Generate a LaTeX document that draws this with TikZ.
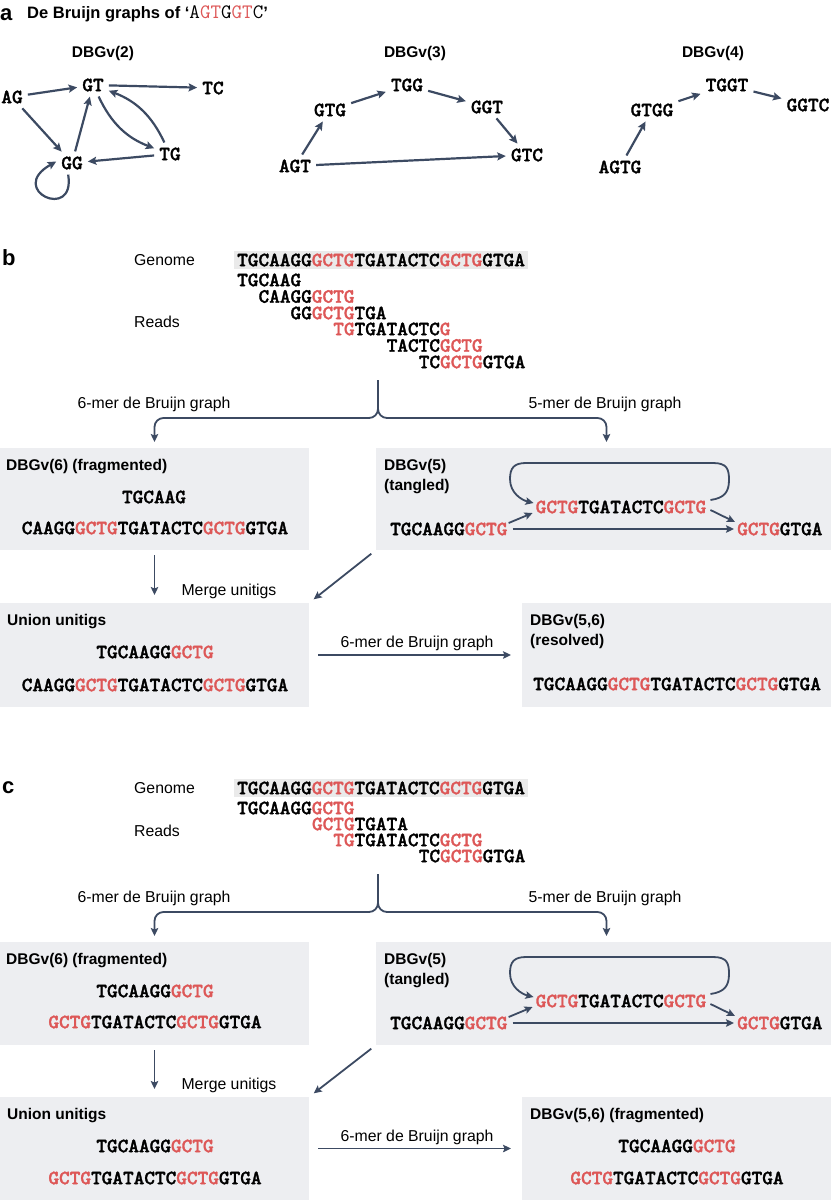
\documentclass[tikz,border=0pt]{standalone}
\usepackage{fontspec}
\setmainfont{Liberation Sans}
\newfontfamily\seqf{lmmonolt10-bold.otf}[FakeBold=1.6]
\usetikzlibrary{arrows.meta}
\definecolor{seqred}{HTML}{DD5757}
\definecolor{arr}{HTML}{3C4A62}
\definecolor{boxbg}{HTML}{EDEEF1}
\definecolor{genbg}{HTML}{EAEAEA}
\newcommand{\R}[1]{\textcolor{seqred}{#1}}
\begin{document}
\begin{tikzpicture}[x=1pt,y=1pt,
  seq/.style={font=\seqf\fontsize{20.3}{22}\selectfont, inner sep=0pt, text=black},
  gnode/.style={seq, inner sep=4pt},
  lab/.style={font=\fontsize{15.8}{18}\selectfont, inner sep=0pt, text height=11.3pt, text depth=0pt},
  ttl/.style={font=\bfseries\fontsize{15.5}{18}\selectfont, inner sep=0pt, text height=11.1pt, text depth=0pt},
  panel/.style={font=\bfseries\fontsize{22}{24}\selectfont, inner sep=0pt, text height=15pt, text depth=0pt, anchor=west},
  conn/.style={draw=arr, line width=1.8pt, -{Stealth[length=8pt,width=7.5pt,inset=1.5pt]}},
  aconn/.style={draw=arr, line width=2.2pt, -{Stealth[length=8.5pt,width=8pt,inset=1.5pt]}, shorten >=1pt, shorten <=1pt},
  box/.style={fill=boxbg, inner sep=0pt, outer sep=0pt, anchor=north west},
]
\useasboundingbox (0,0) rectangle (831,-1200);

% ---------------- panel a ----------------
\node[panel] (pa) at (0,-13) {a};
\node[ttl, anchor=west, font=\bfseries\fontsize{16.5}{18}\selectfont] (ta) at (27,-13)
  {De Bruijn graphs of ‘{\ttfamily\mdseries\fontsize{20.5}{22}\selectfont A\R{GT}G\R{GT}C}’};

\node[ttl] (a2t) at (103,-52) {DBGv(2)};
\node[gnode] (AG) at (12,-97) {AG};
\node[gnode] (GT) at (93,-85) {GT};
\node[gnode] (TC) at (213,-88) {TC};
\node[gnode] (GG) at (72,-163) {GG};
\node[gnode] (TG) at (170,-154) {TG};
\draw[aconn] (AG) -- (GT);
\draw[aconn] (GT) -- (TC);
\draw[aconn] (AG) -- (GG);
\draw[aconn] (GG) -- (GT);
\draw[aconn] (GT) to[bend right=22] (TG);
\draw[aconn] (TG) to[bend right=22] (GT);
\draw[aconn] (TG) -- (GG);
\draw[aconn] ([xshift=-4pt]GG.south) .. controls (76,-222) and (6,-190) .. ([yshift=2pt]GG.west);

\node[ttl] (a3t) at (415,-52) {DBGv(3)};
\node[gnode] (GTG) at (330,-110) {GTG};
\node[gnode] (TGG) at (407,-85) {TGG};
\node[gnode] (GGT) at (487,-107) {GGT};
\node[gnode] (GTC) at (527,-155) {GTC};
\node[gnode] (AGT) at (295,-166) {AGT};
\draw[aconn] (AGT) -- (GTG);
\draw[aconn] (GTG) -- (TGG);
\draw[aconn] (TGG) -- (GGT);
\draw[aconn] (GGT) -- (GTC);
\draw[aconn] (AGT) -- (GTC);

\node[ttl] (a4t) at (713,-52) {DBGv(4)};
\node[gnode] (GTGG) at (652,-110) {GTGG};
\node[gnode] (TGGT) at (727,-85) {TGGT};
\node[gnode] (GGTC) at (808,-105) {GGTC};
\node[gnode] (AGTG) at (620,-167) {AGTG};
\draw[aconn] (AGTG) -- (GTGG);
\draw[aconn] (GTGG) -- (TGGT);
\draw[aconn] (TGGT) -- (GGTC);

% ---------------- panel b ----------------
\node[panel] (pb) at (2,-258) {b};
\node[lab, anchor=west] (bgl) at (134,-260) {Genome};
\node[seq, fill=genbg, inner xsep=3pt, inner ysep=3pt, anchor=west] (bgs) at (234,-260)
  {TGCAAGG\R{GCTG}TGATACTC\R{GCTG}GTGA};
\node[lab, anchor=west] (brl) at (134,-322) {Reads};
\node[seq, anchor=west] (br1) at (237,-280) {TGCAAG};
\node[seq, anchor=west] (br2) at (258.4,-296.5) {CAAGG\R{GCTG}};
\node[seq, anchor=west] (br3) at (290.4,-313) {GG\R{GCTG}TGA};
\node[seq, anchor=west] (br4) at (333.1,-329) {\R{TG}TGATACTC\R{G}};
\node[seq, anchor=west] (br5) at (386.5,-345.5) {TACTC\R{GCTG}};
\node[seq, anchor=west] (br6) at (418.6,-362) {TC\R{GCTG}GTGA};

\node[box, minimum width=309pt, minimum height=102pt] (b6) at (0,-448) {};
\node[box, minimum width=455pt, minimum height=102pt] (b5) at (376,-448) {};
\node[box, minimum width=309pt, minimum height=104pt] (bu) at (0,-603) {};
\node[box, minimum width=309pt, minimum height=104pt] (bres) at (522,-603) {};

\coordinate (bsplit) at (378,-380);
\draw[conn, rounded corners=9pt, shorten >=6pt] (bsplit) -- (378,-418) -| (b6.north);
\draw[conn, rounded corners=9pt, shorten >=6pt] (bsplit) -- (378,-418) -| ([xshift=3pt]b5.north);
\node[lab] (bl6) at (154,-403) {6-mer de Bruijn graph};
\node[lab] (bl5) at (605,-403) {5-mer de Bruijn graph};

\node[ttl, anchor=west] (b6t) at (6,-465) {DBGv(6) (fragmented)};
\node[seq] (b6a) at (154,-497) {TGCAAG};
\node[seq] (b6b) at (155,-528) {CAAGG\R{GCTG}TGATACTC\R{GCTG}GTGA};

\node[ttl, anchor=west] (b5t) at (384,-465) {DBGv(5)};
\node[ttl, anchor=west] (b5u) at (384,-485) {(tangled)};
\node[seq] (bm) at (621,-507) {\R{GCTG}TGATACTC\R{GCTG}};
\node[seq, anchor=west] (bl) at (390,-529) {TGCAAGG\R{GCTG}};
\node[seq, anchor=west] (bri) at (737,-529) {\R{GCTG}GTGA};
\draw[conn] ([shift={(1pt,6pt)}]bl.east) -- ([shift={(-3pt,-6pt)}]bm.west);
\draw[conn] ([shift={(4pt,-3pt)}]bm.east) -- ([shift={(-2pt,7pt)}]bri.west);
\draw[conn] ([xshift=5pt]bl.east) -- ([xshift=-3pt]bri.west);
\draw[conn] ([shift={(4pt,7pt)}]bm.east) .. controls +(14,2) and +(0,-12) .. (729,-480)
  .. controls +(0,11) and +(14,0) .. (713,-463) -- (526,-463)
  .. controls +(-12,0) and +(0,11) .. (510,-479)
  .. controls +(0,-14) and +(-12,3) .. ([shift={(-2pt,4pt)}]bm.west);

\draw[conn, shorten <=5pt, shorten >=8pt] (b6.south) -- (bu.north);
\draw[conn, shorten <=6pt, shorten >=6pt] (b5.south west) -- (bu.north east);
\node[lab] (bmg) at (229,-590) {Merge unitigs};

\node[ttl, anchor=west] (but) at (7,-620) {Union unitigs};
\node[seq] (bua) at (155,-652) {TGCAAGG\R{GCTG}};
\node[seq] (bub) at (155,-685) {CAAGG\R{GCTG}TGATACTC\R{GCTG}GTGA};
\draw[conn, shorten <=9pt, shorten >=11pt] (bu.east) -- (bres.west);
\node[lab] (bh) at (417,-642) {6-mer de Bruijn graph};
\node[ttl, anchor=west] (brt) at (530,-620) {DBGv(5,6)};
\node[ttl, anchor=west] (bru) at (530,-640) {(resolved)};
\node[seq, anchor=west] (brs) at (533,-684) {TGCAAGG\R{GCTG}TGATACTC\R{GCTG}GTGA};

% ---------------- panel c ----------------
\node[panel] (pc) at (2,-786) {c};
\node[lab, anchor=west] (cgl) at (134,-788) {Genome};
\node[seq, fill=genbg, inner xsep=3pt, inner ysep=3pt, anchor=west] (cgs) at (234,-788)
  {TGCAAGG\R{GCTG}TGATACTC\R{GCTG}GTGA};
\node[lab, anchor=west] (crl) at (134,-831) {Reads};
\node[seq, anchor=west] (cr1) at (237,-808) {TGCAAGG\R{GCTG}};
\node[seq, anchor=west] (cr2) at (311.8,-824) {\R{GCTG}TGATA};
\node[seq, anchor=west] (cr3) at (333.1,-840) {\R{TG}TGATACTC\R{GCTG}};
\node[seq, anchor=west] (cr4) at (418.6,-856) {TC\R{GCTG}GTGA};

\node[box, minimum width=309pt, minimum height=103pt] (c6) at (0,-942) {};
\node[box, minimum width=455pt, minimum height=103pt] (c5) at (376,-942) {};
\node[box, minimum width=309pt, minimum height=103pt] (cu) at (0,-1097) {};
\node[box, minimum width=309pt, minimum height=103pt] (cres) at (522,-1097) {};

\coordinate (csplit) at (378,-874);
\draw[conn, rounded corners=9pt, shorten >=6pt] (csplit) -- (378,-912) -| (c6.north);
\draw[conn, rounded corners=9pt, shorten >=6pt] (csplit) -- (378,-912) -| ([xshift=3pt]c5.north);
\node[lab] (cl6) at (154,-897) {6-mer de Bruijn graph};
\node[lab] (cl5) at (605,-897) {5-mer de Bruijn graph};

\node[ttl, anchor=west] (c6t) at (6,-959) {DBGv(6) (fragmented)};
\node[seq] (c6a) at (155,-991) {TGCAAGG\R{GCTG}};
\node[seq] (c6b) at (155,-1022) {\R{GCTG}TGATACTC\R{GCTG}GTGA};

\node[ttl, anchor=west] (c5t) at (384,-959) {DBGv(5)};
\node[ttl, anchor=west] (c5u) at (384,-979) {(tangled)};
\node[seq] (cm) at (621,-1001) {\R{GCTG}TGATACTC\R{GCTG}};
\node[seq, anchor=west] (cl) at (390,-1023) {TGCAAGG\R{GCTG}};
\node[seq, anchor=west] (cri) at (737,-1023) {\R{GCTG}GTGA};
\draw[conn] ([shift={(1pt,6pt)}]cl.east) -- ([shift={(-3pt,-6pt)}]cm.west);
\draw[conn] ([shift={(4pt,-3pt)}]cm.east) -- ([shift={(-2pt,7pt)}]cri.west);
\draw[conn] ([xshift=5pt]cl.east) -- ([xshift=-3pt]cri.west);
\draw[conn] ([shift={(4pt,7pt)}]cm.east) .. controls +(14,2) and +(0,-12) .. (729,-974)
  .. controls +(0,11) and +(14,0) .. (713,-957) -- (526,-957)
  .. controls +(-12,0) and +(0,11) .. (510,-973)
  .. controls +(0,-14) and +(-12,3) .. ([shift={(-2pt,4pt)}]cm.west);

\draw[conn, shorten <=5pt, shorten >=8pt] (c6.south) -- (cu.north);
\draw[conn, shorten <=6pt, shorten >=6pt] (c5.south west) -- (cu.north east);
\node[lab] (cmg) at (229,-1084) {Merge unitigs};

\node[ttl, anchor=west] (cut) at (7,-1114) {Union unitigs};
\node[seq] (cua) at (155,-1146) {TGCAAGG\R{GCTG}};
\node[seq] (cub) at (155,-1178) {\R{GCTG}TGATACTC\R{GCTG}GTGA};
\draw[conn, shorten <=9pt, shorten >=11pt] (cu.east) -- (cres.west);
\node[lab] (ch) at (417,-1136) {6-mer de Bruijn graph};
\node[ttl, anchor=west] (crt) at (530,-1114) {DBGv(5,6) (fragmented)};
\node[seq] (cra) at (677,-1146) {TGCAAGG\R{GCTG}};
\node[seq] (crb) at (677,-1178) {\R{GCTG}TGATACTC\R{GCTG}GTGA};
\end{tikzpicture}
\end{document}
